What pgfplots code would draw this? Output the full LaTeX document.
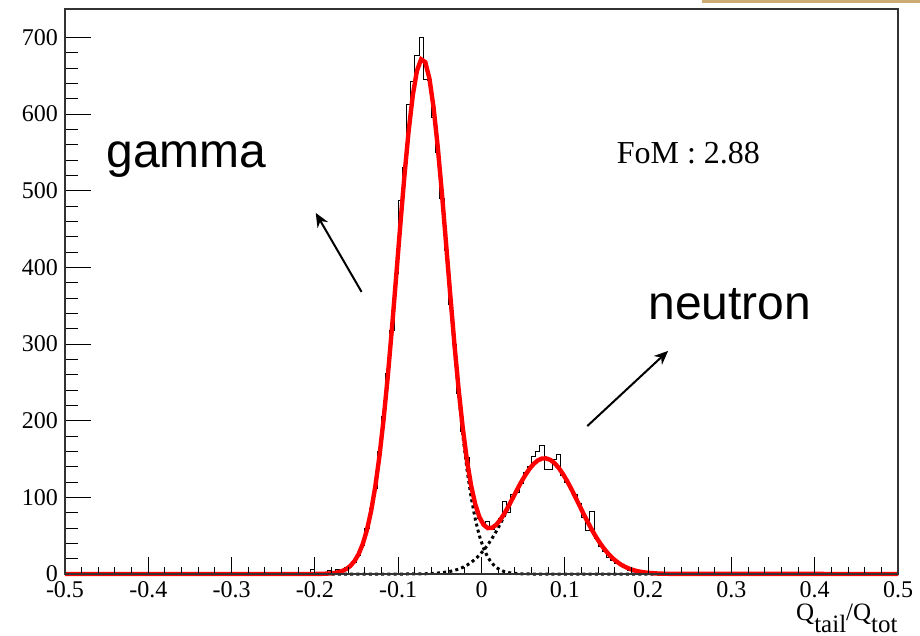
\documentclass[border=0pt]{standalone}
\usepackage{fontspec}
\setmainfont{Liberation Serif}
\newfontfamily\arialfont{Liberation Sans}
\usepackage{pgfplots}
\pgfplotsset{compat=1.18}
\usetikzlibrary{arrows.meta}

% histogram: left bin edge, counts (bin width 0.005)
\pgfplotstableread{
x y
-0.500 0
-0.210 1
-0.205 6
-0.200 1
-0.195 2
-0.190 1
-0.185 4
-0.180 3
-0.175 6
-0.170 5
-0.165 8
-0.160 11
-0.155 15
-0.150 24
-0.145 37
-0.140 60
-0.135 86
-0.130 112
-0.125 160
-0.120 205
-0.115 262
-0.110 318
-0.105 392
-0.100 487
-0.095 530
-0.090 612
-0.085 642
-0.080 676
-0.075 700
-0.070 645
-0.065 644
-0.060 595
-0.055 550
-0.050 490
-0.045 422
-0.040 352
-0.035 300
-0.030 235
-0.025 186
-0.020 152
-0.015 112
-0.010 88
-0.005 72
0.000 66
0.005 68
0.010 58
0.015 64
0.020 72
0.025 94
0.030 80
0.035 104
0.040 106
0.045 118
0.050 132
0.055 140
0.060 153
0.065 160
0.070 168
0.075 137
0.080 137
0.085 150
0.090 156
0.095 128
0.100 120
0.105 110
0.110 104
0.115 92
0.120 74
0.125 57
0.130 81
0.135 47
0.140 36
0.145 30
0.150 21
0.155 18
0.160 14
0.165 11
0.170 8
0.175 5
0.180 4
0.185 3
0.190 2
0.195 1
0.200 0
0.500 0
}\histo

% total fit
\pgfplotstableread{
x y
-0.5000 0
-0.2025 0
-0.1975 0.1
-0.1925 0.2
-0.1875 0.4
-0.1825 0.7
-0.1775 1.2
-0.1725 2.2
-0.1675 3.8
-0.1625 6.4
-0.1575 10.5
-0.1525 16.8
-0.1475 26.0
-0.1425 39.3
-0.1375 57.6
-0.1325 82.2
-0.1275 114.1
-0.1225 154.0
-0.1175 202.2
-0.1125 258.1
-0.1075 320.6
-0.1025 387.3
-0.0975 455.0
-0.0925 519.9
-0.0875 577.7
-0.0825 624.4
-0.0775 656.5
-0.0725 671.4
-0.0675 667.7
-0.0625 646.1
-0.0575 608.1
-0.0525 556.8
-0.0475 496.2
-0.0425 430.3
-0.0375 363.7
-0.0325 299.6
-0.0275 241.3
-0.0225 190.5
-0.0175 148.5
-0.0125 115.4
-0.0075 91.0
-0.0025 74.2
0.0025 64.2
0.0075 59.9
0.0125 60.2
0.0175 64.0
0.0225 70.5
0.0275 79.0
0.0325 88.7
0.0375 99.0
0.0425 109.5
0.0475 119.7
0.0525 128.9
0.0575 137.0
0.0625 143.5
0.0675 148.1
0.0725 150.6
0.0775 150.8
0.0825 148.9
0.0875 144.8
0.0925 138.7
0.0975 130.9
0.1025 121.8
0.1075 111.6
0.1125 100.7
0.1175 89.6
0.1225 78.5
0.1275 67.8
0.1325 57.6
0.1375 48.3
0.1425 39.9
0.1475 32.5
0.1525 26.0
0.1575 20.5
0.1625 16.0
0.1675 12.2
0.1725 9.3
0.1775 6.9
0.1825 5.0
0.1875 3.6
0.1925 2.6
0.1975 1.8
0.2025 1.3
0.2075 0.9
0.2125 0.6
0.2175 0.4
0.2275 0.2
0.5000 0
}\fittot

% gamma component
\pgfplotstableread{
x y
-0.5000 0
-0.2025 0
-0.1975 0.1
-0.1925 0.2
-0.1875 0.4
-0.1825 0.7
-0.1775 1.2
-0.1725 2.2
-0.1675 3.8
-0.1625 6.4
-0.1575 10.5
-0.1525 16.8
-0.1475 26.0
-0.1425 39.3
-0.1375 57.6
-0.1325 82.2
-0.1275 114.1
-0.1225 154.0
-0.1175 202.2
-0.1125 258.1
-0.1075 320.6
-0.1025 387.3
-0.0975 455.0
-0.0925 519.9
-0.0875 577.7
-0.0825 624.4
-0.0775 656.4
-0.0725 671.2
-0.0675 667.4
-0.0625 645.6
-0.0575 607.3
-0.0525 555.7
-0.0475 494.5
-0.0425 427.9
-0.0375 360.3
-0.0325 294.9
-0.0275 234.9
-0.0225 181.9
-0.0175 137.0
-0.0125 100.4
-0.0075 71.6
-0.0025 49.6
0.0025 33.4
0.0075 21.9
0.0125 14.0
0.0175 8.7
0.0225 5.2
0.0275 3.1
0.0325 1.8
0.0375 1.0
0.0425 0.5
0.0475 0.3
0.0600 0
0.5000 0
}\fitgam

% neutron component
\pgfplotstableread{
x y
-0.5000 0
-0.0900 0
-0.0775 0.2
-0.0675 0.3
-0.0575 0.8
-0.0475 1.7
-0.0375 3.4
-0.0325 4.7
-0.0275 6.4
-0.0225 8.6
-0.0175 11.5
-0.0125 15.0
-0.0075 19.4
-0.0025 24.6
0.0025 30.8
0.0075 38.0
0.0125 46.2
0.0175 55.3
0.0225 65.3
0.0275 75.9
0.0325 86.9
0.0375 98.0
0.0425 109.0
0.0475 119.4
0.0525 128.8
0.0575 137.0
0.0625 143.5
0.0675 148.1
0.0725 150.6
0.0775 150.8
0.0825 148.9
0.0875 144.8
0.0925 138.7
0.0975 130.9
0.1025 121.8
0.1075 111.6
0.1125 100.7
0.1175 89.6
0.1225 78.5
0.1275 67.8
0.1325 57.6
0.1375 48.3
0.1425 39.9
0.1475 32.5
0.1525 26.0
0.1575 20.5
0.1625 16.0
0.1675 12.2
0.1725 9.3
0.1775 6.9
0.1825 5.0
0.1875 3.6
0.1925 2.6
0.1975 1.8
0.2025 1.3
0.2075 0.9
0.2125 0.6
0.2175 0.4
0.2275 0.2
0.5000 0
}\fitneu

\begin{document}
\begin{tikzpicture}
\begin{axis}[
  scale only axis,
  width=416.5pt,
  height=282.5pt,
  at={(0,0)},
  anchor=south west,
  xmin=-0.5, xmax=0.5,
  ymin=0, ymax=737,
  axis on top,
  clip=false,
  tick align=inside,
  tick pos=left,
  xtick={-0.5,-0.4,-0.3,-0.2,-0.1,0,0.1,0.2,0.3,0.4,0.5},
  xticklabels={-0.5,-0.4,-0.3,-0.2,-0.1,0,0.1,0.2,0.3,0.4,0.5},
  ytick={0,100,200,300,400,500,600,700},
  yticklabels={0,100,200,300,400,500,600,700},
  minor x tick num=4,
  minor y tick num=4,
  x tick style={/pgfplots/major tick length=8.5pt,/pgfplots/minor tick length=3.5pt,black,line width=0.5pt},
  y tick style={/pgfplots/major tick length=12.8pt,/pgfplots/minor tick length=6.7pt,black,line width=0.5pt},
  tick label style={font=\fontsize{12}{14}\selectfont},
  axis line style={black!80,line width=0.6pt},
]
\addplot[const plot, black, line width=0.45pt] table {\histo};
\addplot[black, line width=1.5pt, dash pattern=on 1.5pt off 1.6pt] table {\fitgam};
\addplot[black, line width=1.5pt, dash pattern=on 1.5pt off 1.6pt] table {\fitneu};
\addplot[red, line width=2.2pt] table {\fittot};

\node[anchor=base, font=\arialfont\fontsize{24}{28}\selectfont] at (axis cs:-0.354,530) {gamma};
\node[anchor=base, font=\arialfont\fontsize{24}{28}\selectfont] at (axis cs:0.298,332) {neutron};
\node[anchor=base west, inner sep=0pt, font=\fontsize{16}{18}\selectfont] at (axis cs:0.162,536) {FoM : 2.88};
\draw[-{Stealth[length=7pt,width=6pt]}, line width=1pt] (axis cs:-0.144,368) -- (axis cs:-0.199,471);
\draw[-{Stealth[length=7pt,width=6pt]}, line width=1pt] (axis cs:0.127,193) -- (axis cs:0.224,291);
\node[anchor=north east, inner sep=0pt, yshift=-15pt, font=\fontsize{12.5}{14}\selectfont]
  at (rel axis cs:1,0) {Q\raisebox{-0.45em}{tail}/Q\raisebox{-0.45em}{tot}};
\end{axis}
\fill[color={rgb,255:red,205;green,172;blue,115}] (318.5pt,285.6pt) rectangle (427.5pt,287pt);
\pgfresetboundingbox
\path[use as bounding box] (-32.5pt,-31pt) rectangle (427.5pt,287pt);
\end{tikzpicture}
\end{document}
